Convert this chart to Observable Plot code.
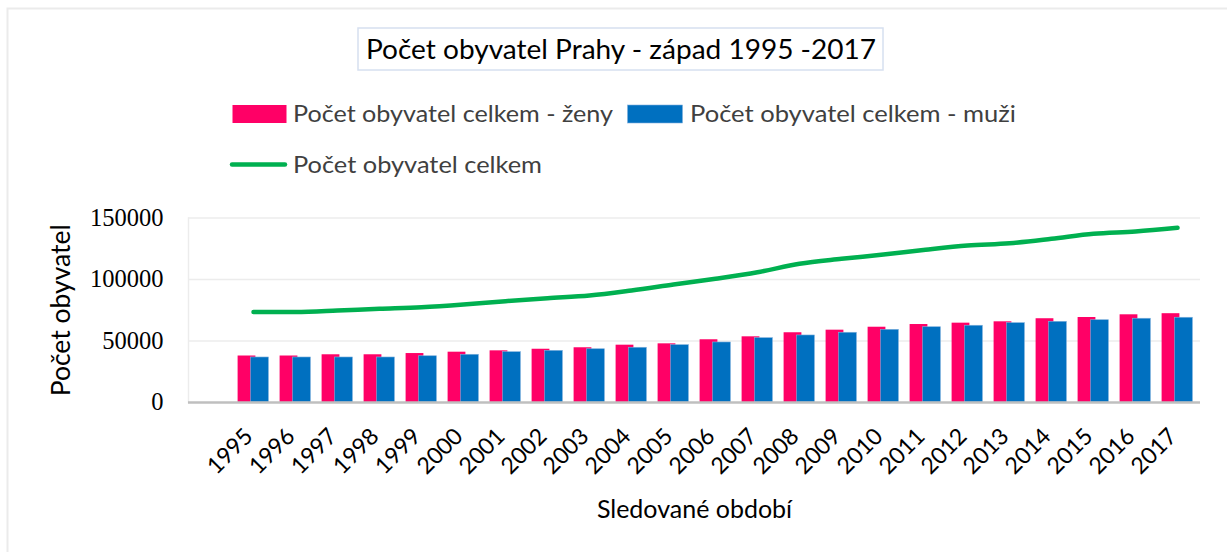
<!DOCTYPE html>
<html>
<head>
<meta charset="utf-8">
<script src="https://cdn.jsdelivr.net/npm/d3@7"></script>
<script src="https://cdn.jsdelivr.net/npm/@observablehq/plot@0.6"></script>
<style>
  html, body { margin: 0; padding: 0; background: #fff; }
  #wrap { position: relative; width: 1227px; height: 552px; overflow: hidden; }
  #wrap svg { position: absolute; left: 0; top: 0; }
</style>
</head>
<body>
<div id="wrap"></div>
<script>
const years = ["1995","1996","1997","1998","1999","2000","2001","2002","2003","2004","2005","2006","2007","2008","2009","2010","2011","2012","2013","2014","2015","2016","2017"];
const women = [37800, 37800, 38800, 38800, 39800, 40900, 42000, 43300, 44500, 46600, 47700, 51000, 53400, 56700, 58800, 61200, 63400, 64500, 65600, 68100, 69100, 71300, 72200];
const men   = [36600, 36600, 36600, 36600, 37600, 38800, 40900, 42000, 43300, 44500, 46600, 48800, 52300, 54500, 56700, 59100, 61200, 62400, 64500, 65600, 66900, 68100, 68900];
const total = [73600, 73600, 74800, 76200, 77500, 79700, 82400, 84800, 87000, 91100, 95900, 100600, 105900, 112800, 116800, 120300, 124200, 127600, 129500, 133100, 137200, 139000, 142000];
const yTicks = [0, 50000, 100000, 150000];
const seriesNames = ["Počet obyvatel celkem - ženy", "Počet obyvatel celkem - muži", "Počet obyvatel celkem"];
const colors = ["#FF0066", "#0070C0", "#00B050"];
const title = "Počet obyvatel Prahy - západ 1995 -2017";
const xTitle = "Sledované období";
const yTitle = "Počet obyvatel";

const SANS = "Lato, 'Open Sans', sans-serif";
const SERIF = "'Liberation Serif', 'DejaVu Serif', serif";

const wRows = years.map((y, i) => ({year: y, value: women[i]}));
const mRows = years.map((y, i) => ({year: y, value: men[i]}));
const tRows = years.map((y, i) => ({year: y, value: total[i]}));

const chart = Plot.plot({
  width: 1227,
  height: 552,
  marginLeft: 188,
  marginRight: 27,
  marginTop: 217.5,
  marginBottom: 150,
  style: {background: "transparent", overflow: "visible"},
  x: {type: "band", domain: ["", ...years], padding: 0, axis: null},
  y: {domain: [0, 150000], axis: null},
  marks: [
    Plot.ruleY(yTicks.filter(d => d > 0), {stroke: "#ececec", strokeWidth: 1.5}),
    Plot.frame({anchor: "left", stroke: "#ececec", strokeWidth: 1.5}),
    Plot.barY(wRows, {x: "year", y: "value", fill: colors[0], insetLeft: 5.6, insetRight: 18.6}),
    Plot.barY(mRows, {x: "year", y: "value", fill: colors[1], stroke: "#7fb0dc", strokeWidth: 0.6, insetLeft: 18.6, insetRight: 5.6}),
    Plot.ruleY([0], {stroke: "#bfbfbf", strokeWidth: 2.5}),
    Plot.lineY(tRows, {x: "year", y: "value", stroke: colors[2], strokeWidth: 4.5, curve: "catmull-rom"}),
    Plot.axisY({ticks: yTicks, tickSize: 0, tickPadding: 25, tickFormat: d => String(d),
      fontSize: 24.5, fontFamily: SERIF, fill: "#000", label: null}),
    Plot.text(years, {x: d => d, y: () => 0, text: d => d, rotate: -45, textAnchor: "end", lineAnchor: "middle",
      dx: -4.5, dy: 30, fontSize: 23, fontFamily: SANS, fill: "#000"}),
    Plot.text([xTitle], {frameAnchor: "bottom", dy: 107, fontSize: 25, fontFamily: SANS, fill: "#000", lineAnchor: "middle"}),
    Plot.text([yTitle], {frameAnchor: "left", dx: -127, rotate: -90, textAnchor: "middle", fontSize: 26.5, fontFamily: SANS, fill: "#000", lineAnchor: "middle"})
  ]
});
document.getElementById("wrap").appendChild(chart);

// Title, legend and outer border overlay
const ov = d3.select("#wrap").append("svg")
  .attr("width", 1227).attr("height", 552)
  .style("pointer-events", "none");

ov.append("path").attr("d", "M7.5,552 V8.5 H1227").attr("fill", "none").attr("stroke", "#ebebeb").attr("stroke-width", 2);

ov.append("rect").attr("x", 358).attr("y", 28).attr("width", 525).attr("height", 42)
  .attr("fill", "#fff").attr("stroke", "#d6e0f0").attr("stroke-width", 1.5);
ov.append("text").attr("x", 366).attr("y", 59.3).attr("font-family", SANS).attr("font-size", 26)
  .attr("fill", "#000").attr("textLength", 510).attr("lengthAdjust", "spacingAndGlyphs").text(title);

// legend row 1
ov.append("rect").attr("x", 232.5).attr("y", 105).attr("width", 54).attr("height", 18).attr("fill", colors[0]);
ov.append("text").attr("x", 293).attr("y", 122.3).attr("font-family", SANS).attr("font-size", 22.5)
  .attr("fill", "#404040").attr("textLength", 320).attr("lengthAdjust", "spacingAndGlyphs").text(seriesNames[0]);
ov.append("rect").attr("x", 627.5).attr("y", 105).attr("width", 55).attr("height", 18).attr("fill", colors[1])
  .attr("stroke", "#7fb0dc").attr("stroke-width", 0.6);
ov.append("text").attr("x", 690).attr("y", 122.3).attr("font-family", SANS).attr("font-size", 22.5)
  .attr("fill", "#404040").attr("textLength", 326).attr("lengthAdjust", "spacingAndGlyphs").text(seriesNames[1]);
// legend row 2
ov.append("line").attr("x1", 232).attr("x2", 285).attr("y1", 164.5).attr("y2", 164.5)
  .attr("stroke", colors[2]).attr("stroke-width", 4.5).attr("stroke-linecap", "round");
ov.append("text").attr("x", 293).attr("y", 173.3).attr("font-family", SANS).attr("font-size", 22.5)
  .attr("fill", "#404040").attr("textLength", 249).attr("lengthAdjust", "spacingAndGlyphs").text(seriesNames[2]);
</script>
</body>
</html>
